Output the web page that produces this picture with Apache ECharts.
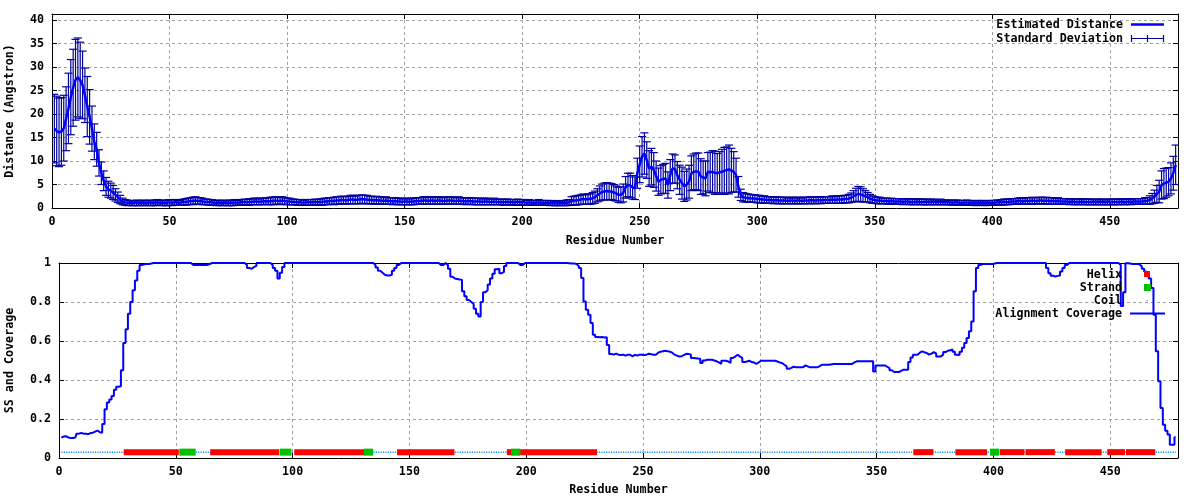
<!DOCTYPE html>
<html><head><meta charset="utf-8">
<script src="https://cdn.jsdelivr.net/npm/echarts@6/dist/echarts.min.js"></script>
<style>html,body{margin:0;padding:0;background:#fff}#c{width:1200px;height:500px}</style>
</head><body><div id="c"></div>
<script>
// ---------- DATA ----------
const firstResidue = 1;
const distance = [
16.9,16.4,16.1,16.3,17.0,19.0,21.2,23.6,25.6,27.3,
27.8,27.2,26.2,24.0,21.6,19.4,16.9,14.1,12.5,9.6,
7.4,5.8,4.6,4.0,3.7,3.3,2.8,2.3,1.8,1.4,
1.2,1.1,1.1,1.0,1.0,1.1,1.0,1.1,1.1,1.0,
1.1,1.1,1.0,1.1,1.2,1.1,1.1,1.0,1.1,1.2,
1.1,1.2,1.2,1.1,1.2,1.3,1.3,1.4,1.5,1.5,
1.6,1.5,1.5,1.4,1.3,1.3,1.2,1.2,1.1,1.1,
1.1,1.0,1.1,1.1,1.0,1.1,1.1,1.2,1.1,1.2,
1.2,1.3,1.2,1.3,1.3,1.4,1.4,1.3,1.4,1.4,
1.5,1.4,1.5,1.5,1.6,1.5,1.5,1.6,1.5,1.4,
1.4,1.3,1.3,1.2,1.2,1.2,1.1,1.2,1.2,1.2,
1.2,1.3,1.2,1.3,1.3,1.4,1.4,1.5,1.5,1.5,
1.6,1.6,1.7,1.7,1.6,1.7,1.8,1.8,1.7,1.8,
1.8,1.9,1.8,1.8,1.7,1.7,1.6,1.7,1.6,1.6,
1.5,1.6,1.5,1.5,1.4,1.5,1.4,1.4,1.3,1.4,
1.4,1.3,1.4,1.4,1.5,1.5,1.5,1.6,1.6,1.5,
1.6,1.6,1.5,1.6,1.6,1.5,1.5,1.6,1.6,1.6,
1.5,1.5,1.6,1.5,1.5,1.4,1.5,1.5,1.4,1.4,
1.4,1.4,1.3,1.4,1.4,1.3,1.3,1.4,1.3,1.3,
1.3,1.2,1.3,1.3,1.2,1.2,1.2,1.3,1.2,1.2,
1.2,1.1,1.2,1.1,1.1,1.1,1.2,1.1,1.1,1.1,
1.1,1.0,1.1,1.0,1.0,1.0,1.1,1.0,1.1,1.2,
1.5,1.6,1.6,1.7,1.8,1.9,1.8,1.9,1.9,2.1,
2.3,2.7,3.1,3.4,3.5,3.6,3.5,3.5,3.3,3.1,
2.8,2.8,3.2,4.4,4.9,4.8,4.4,4.2,7.4,9.3,
10.9,11.6,10.2,8.4,8.8,8.1,6.8,5.6,6.0,6.2,
6.3,4.9,7.0,8.4,8.3,7.0,6.0,5.3,4.6,5.0,
5.6,7.4,7.7,7.8,7.7,6.7,6.5,6.3,7.7,7.6,
7.7,7.5,7.4,7.6,7.7,7.9,8.1,8.2,8.0,7.7,
7.0,4.5,2.8,2.3,2.2,2.1,2.1,2.0,2.0,1.9,
1.9,1.8,1.8,1.7,1.7,1.7,1.6,1.7,1.6,1.6,
1.6,1.6,1.5,1.6,1.6,1.5,1.6,1.6,1.5,1.6,
1.6,1.6,1.7,1.6,1.6,1.7,1.6,1.7,1.7,1.7,
1.7,1.8,1.7,1.8,1.8,1.8,1.9,1.9,2.0,2.2,
2.5,2.8,3.0,2.9,2.7,2.5,2.3,2.0,1.8,1.7,
1.6,1.6,1.5,1.5,1.5,1.4,1.5,1.4,1.4,1.4,
1.4,1.3,1.4,1.4,1.3,1.3,1.3,1.4,1.3,1.3,
1.3,1.3,1.2,1.3,1.3,1.2,1.2,1.3,1.2,1.2,
1.2,1.2,1.1,1.2,1.2,1.1,1.1,1.1,1.2,1.1,
1.1,1.1,1.0,1.1,1.1,1.1,1.0,1.1,1.1,1.1,
1.1,1.2,1.2,1.2,1.3,1.3,1.3,1.4,1.4,1.4,
1.5,1.5,1.4,1.5,1.5,1.5,1.6,1.5,1.5,1.6,
1.6,1.5,1.6,1.5,1.5,1.5,1.4,1.5,1.4,1.4,
1.4,1.4,1.3,1.4,1.3,1.3,1.3,1.4,1.3,1.3,
1.3,1.3,1.3,1.2,1.3,1.3,1.3,1.2,1.3,1.3,
1.3,1.3,1.3,1.3,1.4,1.3,1.3,1.4,1.3,1.4,
1.4,1.4,1.4,1.4,1.5,1.5,1.7,2.0,2.4,3.0,
3.5,4.9,5.2,5.4,5.6,6.3,7.4,9.2
];
const stdDev = [
7.3,7.4,7.3,7.2,7.0,6.8,7.5,8.0,8.2,8.6,
8.4,8.1,7.2,5.8,6.4,5.8,4.8,3.8,3.6,2.8,
2.4,2.1,1.9,1.7,1.6,1.5,1.3,1.1,0.9,0.7,
0.6,0.6,0.5,0.5,0.5,0.6,0.5,0.5,0.6,0.5,
0.5,0.6,0.5,0.6,0.6,0.5,0.6,0.5,0.6,0.6,
0.6,0.6,0.6,0.5,0.6,0.6,0.7,0.7,0.7,0.8,
0.8,0.7,0.7,0.7,0.6,0.6,0.6,0.6,0.5,0.6,
0.5,0.5,0.6,0.5,0.5,0.6,0.6,0.6,0.5,0.6,
0.6,0.6,0.6,0.7,0.6,0.7,0.7,0.6,0.7,0.7,
0.7,0.7,0.8,0.8,0.8,0.7,0.8,0.8,0.7,0.7,
0.7,0.6,0.6,0.6,0.6,0.6,0.5,0.6,0.6,0.6,
0.6,0.6,0.6,0.6,0.7,0.7,0.7,0.7,0.7,0.8,
0.8,0.8,0.8,0.8,0.8,0.8,0.9,0.9,0.8,0.9,
0.9,0.9,0.9,0.9,0.8,0.8,0.8,0.8,0.8,0.8,
0.7,0.8,0.7,0.7,0.7,0.7,0.7,0.7,0.6,0.7,
0.7,0.6,0.7,0.7,0.7,0.7,0.7,0.8,0.8,0.7,
0.8,0.8,0.7,0.8,0.8,0.7,0.7,0.8,0.8,0.8,
0.7,0.7,0.8,0.7,0.7,0.7,0.7,0.7,0.7,0.7,
0.7,0.7,0.6,0.7,0.7,0.6,0.6,0.7,0.6,0.6,
0.6,0.6,0.6,0.6,0.6,0.6,0.6,0.6,0.6,0.6,
0.6,0.5,0.6,0.5,0.5,0.5,0.6,0.5,0.5,0.5,
0.5,0.5,0.5,0.5,0.5,0.5,0.5,0.5,0.6,0.6,
0.9,0.9,1.0,1.0,1.0,1.1,1.0,1.1,1.1,1.2,
1.3,1.4,1.6,1.7,1.8,1.8,1.8,1.7,1.7,1.6,
1.6,1.7,1.9,2.3,2.5,2.6,2.5,2.4,3.2,3.9,
4.3,4.4,3.9,3.8,3.9,3.7,3.2,2.9,3.0,3.1,
3.2,2.8,3.3,3.1,3.0,2.9,3.1,3.4,3.2,3.3,
3.5,3.7,3.8,3.9,4.0,3.8,3.5,3.7,4.1,4.3,
4.5,4.6,4.2,4.4,4.8,5.0,4.9,5.2,4.7,4.3,
3.6,2.2,1.2,1.0,0.9,0.9,0.8,0.8,0.8,0.8,
0.8,0.7,0.8,0.7,0.7,0.7,0.7,0.7,0.7,0.7,
0.7,0.7,0.6,0.7,0.7,0.6,0.7,0.7,0.6,0.7,
0.7,0.7,0.7,0.7,0.7,0.7,0.7,0.7,0.7,0.7,
0.7,0.8,0.7,0.8,0.8,0.8,0.8,0.8,0.9,1.0,
1.2,1.4,1.6,1.6,1.4,1.2,1.0,0.9,0.8,0.7,
0.7,0.7,0.6,0.6,0.6,0.6,0.6,0.6,0.6,0.6,
0.6,0.6,0.6,0.6,0.6,0.6,0.6,0.6,0.6,0.6,
0.6,0.6,0.5,0.6,0.6,0.5,0.5,0.6,0.5,0.5,
0.5,0.5,0.5,0.5,0.5,0.5,0.5,0.5,0.5,0.5,
0.5,0.5,0.5,0.5,0.5,0.5,0.5,0.5,0.5,0.5,
0.5,0.5,0.5,0.6,0.6,0.6,0.6,0.6,0.6,0.6,
0.6,0.7,0.6,0.7,0.7,0.7,0.7,0.7,0.7,0.7,
0.7,0.7,0.7,0.7,0.7,0.7,0.6,0.7,0.6,0.6,
0.6,0.6,0.6,0.6,0.6,0.6,0.6,0.6,0.6,0.6,
0.6,0.6,0.6,0.5,0.6,0.6,0.6,0.5,0.6,0.6,
0.6,0.6,0.6,0.6,0.6,0.6,0.6,0.6,0.6,0.6,
0.6,0.6,0.6,0.6,0.7,0.7,0.9,1.1,1.4,1.8,
2.4,3.0,3.2,3.1,3.0,3.3,3.6,4.2
];
const coverage = [
0.105,0.11,0.112,0.105,0.103,0.103,0.105,0.125,0.128,0.125,
0.125,0.122,0.128,0.13,0.135,0.14,0.132,0.13,0.175,0.25,
0.285,0.3,0.318,0.35,0.365,0.368,0.45,0.59,0.66,0.74,
0.8,0.86,0.91,0.96,0.99,0.993,0.995,0.995,0.997,1,
1,1,1,1,1,1,1,1,1,1,
1,1,1,1,1,1,0.99,0.99,0.99,0.99,
0.99,0.99,0.99,0.995,1,1,1,1,1,1,
1,1,1,1,1,1,1,1,1,0.99,
0.975,0.97,0.98,0.985,1,1,1,1,1,1,
0.99,0.975,0.96,0.92,0.95,0.98,1,1,1,1,
1,1,1,1,1,1,1,1,1,1,
1,1,1,1,1,1,1,1,1,1,
1,1,1,1,1,1,1,1,1,1,
1,1,1,1,0.99,0.977,0.96,0.95,0.94,0.936,
0.936,0.94,0.96,0.975,0.99,1,1,1,1,1,
1,1,1,1,1,1,1,1,1,1,
1,1,0.99,0.99,1,0.99,0.97,0.93,0.92,0.918,
0.915,0.914,0.855,0.83,0.81,0.8,0.79,0.765,0.74,0.726,
0.8,0.85,0.86,0.89,0.92,0.945,0.968,0.971,0.948,0.955,
0.985,1,1,1,1,1,0.99,0.99,1,1,
1,1,1,1,1,1,1,1,1,1,
1,1,1,1,1,1,1,0.999,0.998,0.998,
0.995,0.985,0.974,0.923,0.803,0.76,0.735,0.692,0.632,0.62,
0.619,0.62,0.618,0.619,0.58,0.533,0.53,0.535,0.53,0.528,
0.53,0.525,0.53,0.53,0.52,0.53,0.525,0.53,0.53,0.528,
0.53,0.535,0.532,0.53,0.53,0.54,0.545,0.548,0.55,0.548,
0.545,0.54,0.53,0.525,0.52,0.522,0.528,0.534,0.533,0.53,
0.513,0.512,0.51,0.509,0.487,0.5,0.504,0.504,0.504,0.5,
0.496,0.49,0.482,0.499,0.499,0.495,0.487,0.513,0.52,0.53,
0.52,0.513,0.492,0.495,0.499,0.492,0.49,0.482,0.49,0.499,
0.499,0.499,0.499,0.499,0.499,0.499,0.495,0.49,0.487,0.478,
0.47,0.458,0.462,0.468,0.465,0.465,0.465,0.465,0.475,0.47,
0.465,0.465,0.465,0.465,0.47,0.478,0.478,0.478,0.478,0.48,
0.482,0.482,0.482,0.482,0.482,0.482,0.482,0.482,0.482,0.49,
0.496,0.496,0.496,0.496,0.496,0.496,0.496,0.496,0.444,0.475,
0.475,0.475,0.475,0.468,0.461,0.45,0.441,0.441,0.441,0.447,
0.453,0.453,0.453,0.492,0.515,0.53,0.53,0.54,0.547,0.542,
0.538,0.53,0.535,0.543,0.535,0.521,0.521,0.53,0.543,0.55,
0.553,0.556,0.545,0.53,0.528,0.545,0.565,0.59,0.615,0.65,
0.7,0.855,0.974,0.99,0.995,0.995,0.995,0.995,0.995,0.997,
1,1,1,1,1,1,1,1,1,1,
1,1,1,1,1,1,1,1,1,1,
1,1,0.974,0.948,0.935,0.931,0.934,0.936,0.957,0.974,
0.99,1,1,1,1,1,1,1,1,1,
1,1,1,1,1,1,1,1,1,1,
1,1,1,0.99,0.78,0.85,0.999,0.997,0.995,0.995,
0.995,0.993,0.983,0.97,0.957,0.94,0.92,0.872,0.735,0.547,
0.393,0.256,0.171,0.14,0.12,0.068,0.068,0.106
];
// secondary structure (residue ranges)
const helixRanges = [[29,50],[66,93],[102,130],[146,168],[193,194],[198,229],[367,373],[385,396],[404,412],[415,425],[432,445],[450,455],[458,468]];
const strandRanges = [[53,57],[96,98],[132,133],[195,196],[400,401]];
const coilRange = [1, 478];
const ssLevel = 0.03;
const xMax = 479;
const distYMax = 41.3;

// ---------- CHART ----------
const FONT = '"DejaVu Sans Mono", "Liberation Mono", monospace';
const FS = 11.7;
const lab = {fontFamily: FONT, fontSize: FS, fontWeight: 'bold', color: '#000'};
const grid0 = {left: 52, right: 22, top: 14, height: 194, containLabel: false, outerBoundsMode: 'none'};
const grid1 = {left: 59, right: 22, top: 263, height: 195, containLabel: false, outerBoundsMode: 'none'};
const gridLine = {show: true, lineStyle: {color: '#a0a0a0', type: [3, 3], width: 1}};

function xAxisPair(gi, gap) {
  return [
    {gridIndex: gi, type: 'value', min: 0, max: xMax, interval: 50, position: 'bottom',
     axisLine: {show: true, onZero: false, lineStyle: {color: '#000', width: 1}},
     axisTick: {show: true, inside: true, length: 5, lineStyle: {color: '#000'}},
     axisLabel: Object.assign({margin: 8, showMaxLabel: false,
       formatter: v => (v % 50 === 0 ? String(v) : '')}, lab),
     splitLine: gridLine,
     name: 'Residue Number', nameLocation: 'middle', nameGap: gap,
     nameTextStyle: lab},
    {gridIndex: gi, type: 'value', min: 0, max: xMax, interval: 50, position: 'top',
     axisLine: {show: true, onZero: false, lineStyle: {color: '#000', width: 1}},
     axisTick: {show: true, inside: true, length: 5, lineStyle: {color: '#000'}},
     axisLabel: {show: false}, splitLine: {show: false}}
  ];
}
function yAxisPair(gi, max, interval, name, gap, fmt, showMax) {
  return [
    {gridIndex: gi, type: 'value', min: 0, max: max, interval: interval, position: 'left',
     axisLine: {show: true, onZero: false, lineStyle: {color: '#000', width: 1}},
     axisTick: {show: true, inside: true, length: 5, lineStyle: {color: '#000'}},
     axisLabel: Object.assign({margin: 8, showMaxLabel: showMax, formatter: fmt}, lab),
     splitLine: gridLine,
     name: name, nameLocation: 'middle', nameGap: gap, nameRotate: 90, nameTextStyle: lab},
    {gridIndex: gi, type: 'value', min: 0, max: max, interval: interval, position: 'right',
     axisLine: {show: true, onZero: false, lineStyle: {color: '#000', width: 1}},
     axisTick: {show: true, inside: true, length: 5, lineStyle: {color: '#000'}},
     axisLabel: {show: false}, splitLine: {show: false}}
  ];
}

const distData = distance.map((d, i) => [i + firstResidue, d]);
const errData = distance.map((d, i) => [i + firstResidue, d, stdDev[i]]);
const covData = coverage.map((c, i) => [i + firstResidue, c]);

function errorBarItem(params, api) {
  const x = api.value(0), y = api.value(1), s = api.value(2);
  const cs = params.coordSys;
  const hi = api.coord([x, y + s]);
  const lo = api.coord([x, Math.max(0, y - s)]);
  const w = 4;
  const st = {stroke: '#0000a0', lineWidth: 1.2};
  const ch = [
    {type: 'line', shape: {x1: hi[0], y1: hi[1], x2: lo[0], y2: lo[1]}, style: st},
    {type: 'line', shape: {x1: Math.max(cs.x, hi[0] - w), y1: hi[1], x2: Math.min(cs.x + cs.width, hi[0] + w), y2: hi[1]}, style: st}
  ];
  if (y - s > 0) ch.push({type: 'line', shape: {x1: Math.max(cs.x, lo[0] - w), y1: lo[1], x2: Math.min(cs.x + cs.width, lo[0] + w), y2: lo[1]}, style: st});
  return {type: 'group', children: ch};
}
function segItem(halfW, h, color) {
  return function (params, api) {
    const a = api.coord([api.value(0), api.value(2)]);
    const b = api.coord([api.value(1), api.value(2)]);
    return {type: 'rect', shape: {x: a[0] - halfW, y: a[1] - h / 2, width: b[0] - a[0] + 2 * halfW, height: h},
      style: {fill: color}};
  };
}

const legendText = (t, x, y) => ({type: 'text', x: x, y: y, silent: true, z: 100,
  style: {text: t, align: 'right', verticalAlign: 'middle', fontFamily: FONT, fontSize: FS, fontWeight: 'bold', fill: '#000'}});
const seg = (x1, y1, x2, y2, color, w) => ({type: 'line', silent: true, z: 100,
  shape: {x1, y1, x2, y2}, style: {stroke: color, lineWidth: w}});

const chart = echarts.init(document.getElementById('c'), null, {renderer: 'canvas'});
chart.setOption({
  animation: false,
  backgroundColor: '#fff',
  grid: [grid0, grid1],
  xAxis: [...xAxisPair(0, 27), ...xAxisPair(1, 26)],
  yAxis: [...yAxisPair(0, distYMax, 5, 'Distance (Angstron)', 36, v => (v % 5 === 0 ? String(v) : ''), false),
          ...yAxisPair(1, 1, 0.2, 'SS and Coverage', 43, v => String(Math.round(v * 10) / 10), true)],
  series: [
    {name: 'Standard Deviation', type: 'custom', xAxisIndex: 0, yAxisIndex: 0, clip: true,
     renderItem: errorBarItem, data: errData, z: 2},
    {name: 'Estimated Distance', type: 'line', xAxisIndex: 0, yAxisIndex: 0, data: distData,
     showSymbol: false, symbol: 'none', clip: true, lineStyle: {color: '#0000ff', width: 2.5}, z: 3},
    {name: 'Coil', type: 'line', xAxisIndex: 2, yAxisIndex: 2,
     data: [[coilRange[0], ssLevel], [coilRange[1], ssLevel]], symbol: 'none',
     lineStyle: {color: '#1a8cff', width: 1.5, type: [1.2, 1.2]}, z: 2},
    {name: 'Helix', type: 'custom', xAxisIndex: 2, yAxisIndex: 2, renderItem: segItem(3, 6, '#ff0000'),
     data: helixRanges.map(r => [r[0], r[1], ssLevel]), z: 3},
    {name: 'Strand', type: 'custom', xAxisIndex: 2, yAxisIndex: 2, renderItem: segItem(3.5, 7, '#00c000'),
     data: strandRanges.map(r => [r[0], r[1], ssLevel]), z: 4},
    {name: 'Alignment Coverage', type: 'line', xAxisIndex: 2, yAxisIndex: 2, data: covData,
     showSymbol: false, symbol: 'none', step: 'middle', lineStyle: {color: '#0000ff', width: 2}, z: 5}
  ],
  graphic: [
    legendText('Estimated Distance', 1123, 25),
    seg(1131, 24.5, 1164, 24.5, '#0000ff', 2.5),
    legendText('Standard Deviation', 1123, 39),
    seg(1131, 38.5, 1164, 38.5, '#0000a0', 1.2),
    seg(1131.5, 35, 1131.5, 42, '#0000a0', 1.2),
    seg(1147.5, 35, 1147.5, 42, '#0000a0', 1.2),
    seg(1163.5, 35, 1163.5, 42, '#0000a0', 1.2),
    legendText('Helix', 1122, 275),
    {type: 'rect', silent: true, z: 100, shape: {x: 1144, y: 271, width: 6, height: 6}, style: {fill: '#ff0000'}},
    legendText('Strand', 1122, 288),
    {type: 'rect', silent: true, z: 100, shape: {x: 1144, y: 284, width: 7, height: 7}, style: {fill: '#00c000'}},
    legendText('Coil', 1122, 301),
    {type: 'rect', silent: true, z: 100, shape: {x: 1146.5, y: 300, width: 1.2, height: 1.2}, style: {fill: '#1a8cff'}},
    legendText('Alignment Coverage', 1122, 314),
    seg(1130, 313.5, 1165, 313.5, '#0000ff', 2)
  ]
});
</script>
</body></html>
